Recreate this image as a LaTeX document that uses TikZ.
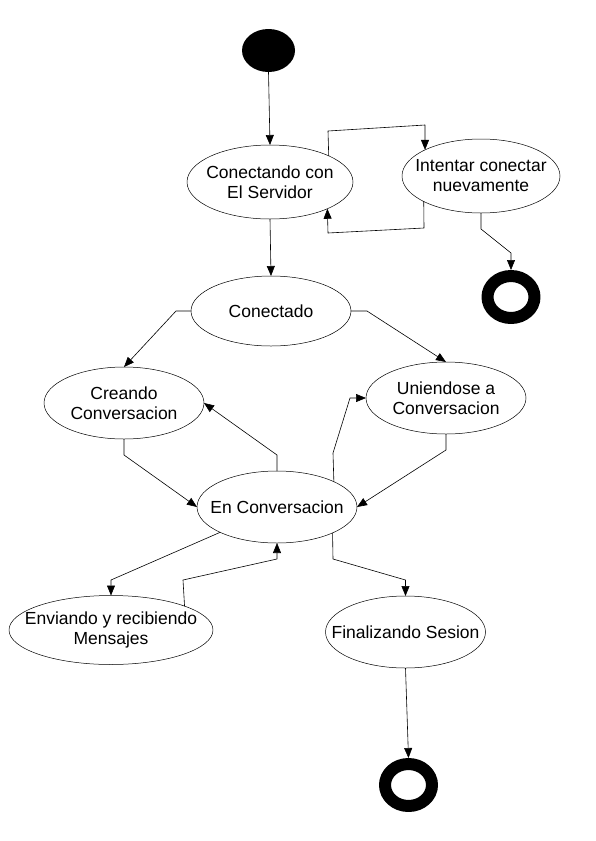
\documentclass[tikz,border=0pt]{standalone}
\usepackage{fontspec}
\setmainfont{Liberation Sans}
\usetikzlibrary{arrows.meta,shapes.geometric}
\tikzset{
	estado/.style={ellipse, draw, line width=0.5pt, fill=white, inner xsep=-30pt, inner ysep=0pt, outer sep=0pt, align=center, font=\fontsize{17.5}{20}\selectfont, minimum width=160pt, minimum height=72pt},
	inicio/.style={ellipse, fill=black, inner sep=0pt, outer sep=0pt, minimum width=53pt, minimum height=43pt},
	final/.style={ellipse, draw=black, line width=12pt, fill=white, inner sep=0pt, outer sep=6pt, minimum width=47pt, minimum height=42pt},
	flecha/.style={-{Triangle[length=10pt,width=8pt]}, line width=0.6pt},
}
\begin{document}
\begin{tikzpicture}[x=1pt, y=-1pt, line join=round]
	\useasboundingbox (0,0) rectangle (595,841);
	% estados
	\node[inicio] (ini) at (268.5,50.5) {};
	\node[estado, minimum width=166pt, minimum height=74pt] (con) at (270,182) {Conectando con\\El Servidor};
	\node[estado, minimum width=158pt, minimum height=74pt] (int) at (481,176) {Intentar conectar\\nuevamente};
	\node[final] (finA) at (511,297) {};
	\node[estado, minimum height=70pt] (cdo) at (271,311) {Conectado};
	\node[estado] (cre) at (124,403) {Creando\\Conversacion};
	\node[estado] (uni) at (446,398) {Uniendose a\\Conversacion};
	\node[estado] (enc) at (277,507) {En Conversacion};
	\node[estado, minimum width=204pt, minimum height=69pt] (env) at (111,630) {Enviando y recibiendo\\Mensajes};
	\node[estado] (fse) at (405.5,632) {Finalizando Sesion};
	\node[final] (finB) at (408.5,785) {};
	% transiciones
	\draw[flecha] (ini.south) -- (con.north);
	\draw[flecha] (con.24.5) -- (328,131) -- (425,125) -- (int.155);
	\draw[flecha] (int.204.2) -- (424,228) -- (328,233) -- (con.335.5);
	\draw[flecha] (int.south) -- (481,229) -- (511,253) -- (finA.north);
	\draw[flecha] (con.south) -- (cdo.north);
	\draw[flecha] (cdo.west) -- (176,311) -- (cre.north);
	\draw[flecha] (cdo.east) -- (367,311) -- (uni.north);
	\draw[flecha] (cre.south) -- (124,455) -- (enc.west);
	\draw[flecha] (enc.north) -- (277,455) -- (cre.east);
	\draw[flecha] (enc.24.65) -- (333,453) -- (350,398) -- (uni.west);
	\draw[flecha] (uni.south) -- (446,450) -- (enc.east);
	\draw[flecha] (enc.204.3) -- (111,580) -- (env.north);
	\draw[flecha] (env.18.7) -- (183,580) -- (277,559) -- (enc.south);
	\draw[flecha] (enc.335.35) -- (333,559) -- (405.5,580) -- (fse.north);
	\draw[flecha] (fse.south) -- (finB.north);
\end{tikzpicture}
\end{document}
